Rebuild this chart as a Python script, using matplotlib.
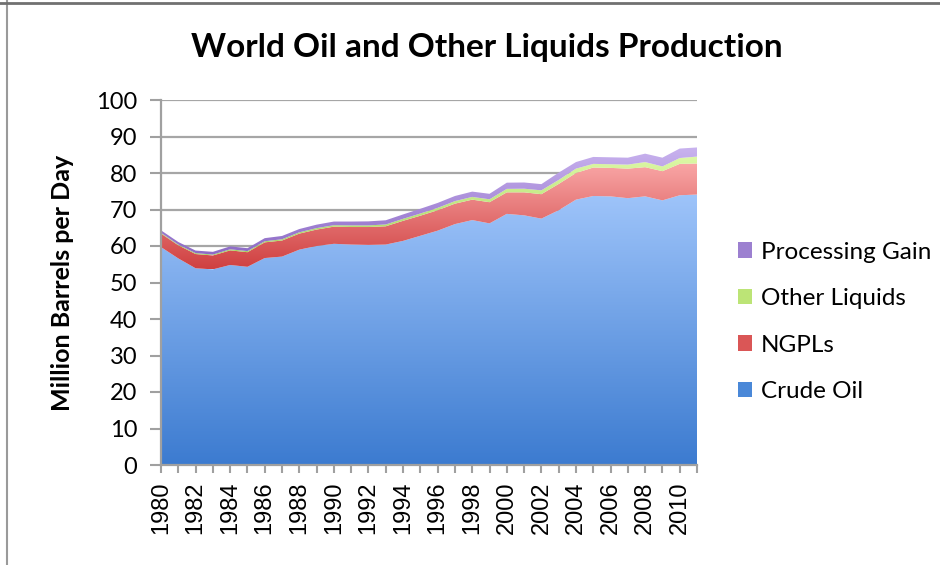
import numpy as np
import matplotlib.pyplot as plt
from matplotlib.colors import LinearSegmentedColormap
from matplotlib.patches import PathPatch, Patch
from matplotlib.lines import Line2D

years = list(range(1980, 2012))

# million barrels per day, stacked bottom to top
crude_oil = [59.7, 56.6, 53.9, 53.6, 54.8, 54.3, 56.7, 57.1, 59.0, 60.0,
             60.6, 60.4, 60.3, 60.4, 61.4, 62.8, 64.2, 66.0, 67.1, 66.2,
             68.8, 68.4, 67.5, 69.8, 72.7, 73.7, 73.6, 73.1, 73.6, 72.5,
             73.9, 74.1]
ngpls = [3.7, 3.6, 3.9, 3.8, 4.0, 4.0, 4.3, 4.4, 4.4, 4.5,
         4.7, 4.8, 4.9, 5.0, 5.5, 5.5, 5.6, 5.6, 5.6, 5.8,
         5.9, 6.3, 6.7, 7.2, 7.3, 7.8, 7.8, 8.1, 8.0, 8.0,
         8.6, 8.5]
other_liquids = [0.2, 0.2, 0.25, 0.25, 0.3, 0.3, 0.3, 0.35, 0.35, 0.4,
                 0.4, 0.45, 0.45, 0.5, 0.55, 0.6, 0.65, 0.7, 0.75, 0.8,
                 0.95, 1.0, 1.05, 1.1, 1.2, 1.0, 1.0, 1.1, 1.4, 1.3,
                 1.6, 1.9]
processing_gain = [0.7, 0.7, 0.7, 0.75, 0.8, 0.8, 0.85, 0.9, 0.9, 0.95,
                   1.0, 1.05, 1.1, 1.15, 1.2, 1.3, 1.35, 1.4, 1.45, 1.5,
                   1.7, 1.7, 1.7, 2.0, 1.8, 1.9, 1.9, 1.9, 2.3, 2.4,
                   2.6, 2.5]

# name, values, gradient bottom, gradient top, legend swatch
series = [
    ("Crude Oil", crude_oil, "#3C7BD0", "#9EC4FA", "#4A88D8"),
    ("NGPLs", ngpls, "#CF4040", "#F9A6A6", "#DA5656"),
    ("Other Liquids", other_liquids, "#A5D45C", "#DDF8A6", "#BCE476"),
    ("Processing Gain", processing_gain, "#8D6BC6", "#C9B3EF", "#9C80D0"),
]

fig = plt.figure(figsize=(9.4, 5.65), dpi=100)
ax = fig.add_axes([161 / 940, 100 / 565, 536 / 940, 365 / 565])

x = np.array(years, dtype=float)
base = np.zeros(len(years))
for name, vals, dark, light, _ in series:
    top = base + np.array(vals)
    coll = ax.fill_between(x, base, top, facecolor="none", edgecolor="none")
    clip = PathPatch(coll.get_paths()[0], transform=ax.transData,
                     facecolor="none", edgecolor="none")
    ax.add_patch(clip)
    cmap = LinearSegmentedColormap.from_list(name, [dark, light])
    grad = np.linspace(0, 1, 256).reshape(-1, 1)
    im = ax.imshow(grad, cmap=cmap, origin="lower", aspect="auto",
                   extent=[x[0], x[-1], base.min(), top.max()], zorder=2)
    im.set_clip_path(clip)
    base = top

ax.set_xlim(1980, 2011)
ax.set_ylim(0, 100)

ax.set_yticks(range(0, 101, 10))
ax.set_xticks(years)
ax.set_xticklabels([str(y) if (y - 1980) % 2 == 0 else "" for y in years],
                   rotation=90, family="Liberation Sans", fontsize=17)
for lbl in ax.get_yticklabels():
    lbl.set_family("Lato")
    lbl.set_fontsize(17)

ax.grid(axis="y", color="#A6A6A6", linewidth=1.6, zorder=0)
ax.set_axisbelow(True)
for side in ("top", "right"):
    ax.spines[side].set_visible(False)
for side in ("left", "bottom"):
    ax.spines[side].set_color("#A0A0A0")
    ax.spines[side].set_linewidth(1.6)
    ax.spines[side].set_zorder(5)
ax.tick_params(axis="y", length=8, width=1.5, color="#A0A0A0", pad=9)
ax.tick_params(axis="x", length=6, width=1.5, color="#A0A0A0", pad=6)

ax.set_ylabel("Million Barrels per Day", family="Lato", fontweight="bold",
              fontsize=18, labelpad=16)
fig.text(487 / 940, 1 - 48 / 565, "World Oil and Other Liquids Production",
         family="Lato", fontweight="bold", fontsize=24, ha="center",
         va="center")

handles = [Patch(facecolor=s[4], edgecolor="none") for s in series]
labels = [s[0] for s in series]
ax.legend(handles[::-1], labels[::-1], loc="center left",
          bbox_to_anchor=(1.035, 0.392), frameon=False,
          prop={"family": "Lato", "size": 17.5},
          handlelength=0.6, handleheight=0.6, handletextpad=0.35,
          labelspacing=1.05)

# chart frame edges
fig.add_artist(Line2D([7 / 940, 7 / 940], [0, 1], color="#9A9A9A", lw=1.5))
fig.add_artist(Line2D([0, 1], [1 - 3 / 565, 1 - 3 / 565], color="#707070", lw=2))

fig.savefig("out.png", dpi=100)
